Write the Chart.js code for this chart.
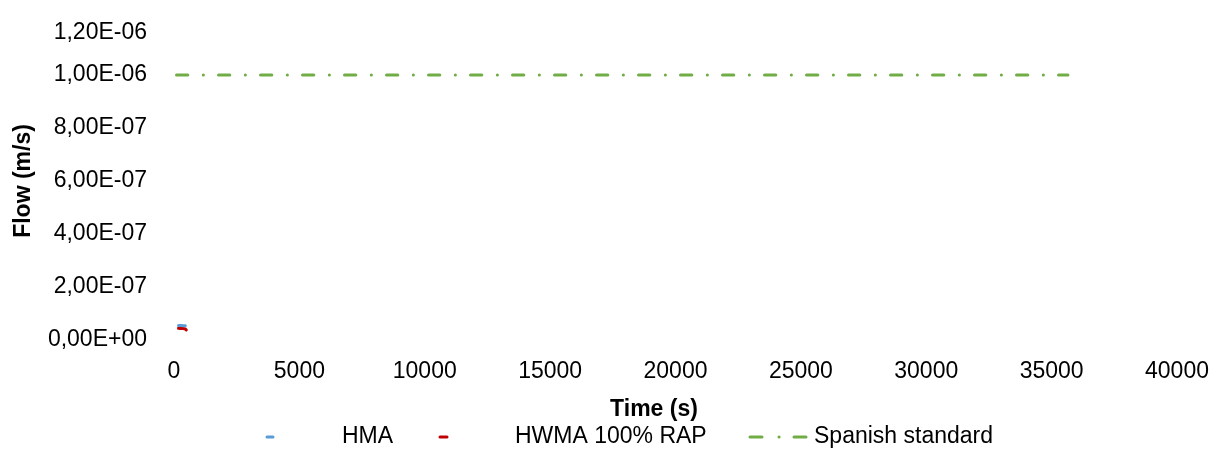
<!DOCTYPE html>
<html><head><meta charset="utf-8">
<script src="https://cdn.jsdelivr.net/npm/chart.js@4/dist/chart.umd.min.js"></script>
<style>html,body{margin:0;padding:0;background:#fff;}#wrap{width:1227px;height:450px;position:relative;}</style>
</head><body><div id="wrap"><canvas id="c" width="1227" height="450"></canvas></div>
<script>
// ---- data ----
const hmaTime = [180, 240, 300, 360, 420, 450];
const hmaFlow = [5.5e-8, 5.5e-8, 5.45e-8, 5.4e-8, 5.4e-8, 5.35e-8];
const hwmaTime = [180, 240, 300, 360, 420, 460, 490];
const hwmaFlow = [4.4e-8, 4.35e-8, 4.3e-8, 4.3e-8, 4.25e-8, 4.1e-8, 3.8e-8];
const standardTime = [100, 35650];
const standardFlow = [1e-6, 1e-6];
const seriesNames = ['HMA', 'HWMA 100% RAP', 'Spanish standard'];
const xTitle = 'Time (s)';
const yTitle = 'Flow (m/s)';
const xRange = [0, 40000, 5000];
const yRange = [0, 1.2e-6, 2e-7];

// ---- styles ----
const FONT = '"Liberation Sans", Arial, sans-serif';
const colors = ['#5B9BD5', '#C00000', '#70AD47'];
const greenDash = [11.3, 15.5, 0.1, 15.1];

function pts(xs, ys){ return xs.map((x,i)=>({x:x, y:ys[i]})); }
function fmtSci(v){
  if (Math.abs(v) < 1e-15) v = 0;
  const s = v.toExponential(2);
  const parts = s.split('e');
  const sign = parts[1][0] === '-' ? '-' : '+';
  let d = parts[1].replace(/[+-]/, '');
  if (d.length < 2) d = '0' + d;
  return parts[0].replace('.', ',') + 'E' + sign + d;
}

// top y label sits a little lower in the original
const topLabelNudge = {
  id: 'topLabelNudge',
  beforeDraw(chart){
    const sc = chart.scales.y;
    if (!sc || !sc.getLabelItems) return;
    const items = sc.getLabelItems();
    if (!items || !items.length) return;
    let top = null;
    items.forEach(it => {
      if (it.options && it.options.translation && (top === null || it.options.translation[1] < top.options.translation[1])) top = it;
    });
    if (top && !top._nudged) { top.options.translation[1] += 11; top._nudged = true; }
  }
};

const legendPlugin = {
  id: 'customLegend',
  afterDraw(chart){
    const ctx = chart.ctx;
    ctx.save();
    // x-axis title
    ctx.fillStyle = '#000';
    ctx.font = 'bold 23px ' + FONT;
    ctx.textAlign = 'center';
    ctx.textBaseline = 'middle';
    ctx.fillText(xTitle, 654, 410);
    // legend
    const y = 437;
    ctx.font = '23px ' + FONT;
    ctx.textAlign = 'left';
    const items = [
      {mk: [[267, 273]], tx: 342},
      {mk: [[440, 447]], tx: 515},
      {mk: [[750, 762], [779, 779.1], [794, 806]], tx: 814}
    ];
    items.forEach((it, i) => {
      ctx.strokeStyle = colors[i];
      ctx.lineWidth = 3;
      ctx.lineCap = 'round';
      it.mk.forEach(seg => {
        ctx.beginPath(); ctx.moveTo(seg[0], y); ctx.lineTo(seg[1], y); ctx.stroke();
      });
      ctx.fillStyle = '#000';
      ctx.fillText(seriesNames[i], it.tx, y);
    });
    ctx.restore();
  }
};

new Chart(document.getElementById('c'), {
  type: 'line',
  data: {
    datasets: [
      {label: seriesNames[0], data: pts(hmaTime, hmaFlow), borderColor: colors[0], backgroundColor: colors[0],
       borderWidth: 3, pointRadius: 0, tension: 0, borderCapStyle: 'round'},
      {label: seriesNames[1], data: pts(hwmaTime, hwmaFlow), borderColor: colors[1], backgroundColor: colors[1],
       borderWidth: 3, pointRadius: 0, tension: 0, borderCapStyle: 'round'},
      {label: seriesNames[2], data: pts(standardTime, standardFlow), borderColor: colors[2], backgroundColor: colors[2],
       borderWidth: 3, pointRadius: 0, tension: 0, borderCapStyle: 'round', borderDash: greenDash}
    ]
  },
  options: {
    responsive: false,
    animation: false,
    devicePixelRatio: 1,
    layout: {padding: {top: 0, right: 50, left: 0, bottom: 0}},
    plugins: {legend: {display: false}, tooltip: {enabled: false}},
    scales: {
      x: {
        type: 'linear', min: xRange[0], max: xRange[1],
        grid: {display: false, drawTicks: false}, border: {display: false},
        ticks: {stepSize: xRange[2], padding: 18, color: '#000', font: {family: FONT, size: 23},
                maxRotation: 0, callback: v => String(v)},
        afterFit: s => { s.height = 110; }
      },
      y: {
        type: 'linear', min: yRange[0], max: yRange[1],
        grid: {display: false, drawTicks: false}, border: {display: false},
        ticks: {stepSize: yRange[2], padding: 27, color: '#000', font: {family: FONT, size: 23},
                callback: v => fmtSci(v)},
        title: {display: true, text: yTitle, color: '#000', font: {family: FONT, size: 23, weight: 'bold'},
                padding: {top: 10, bottom: 10}},
        afterFit: s => { s.width = 174; s.paddingTop = 22; s.paddingBottom = 14; }
      }
    }
  },
  plugins: [topLabelNudge, legendPlugin]
});
</script>
</body></html>
